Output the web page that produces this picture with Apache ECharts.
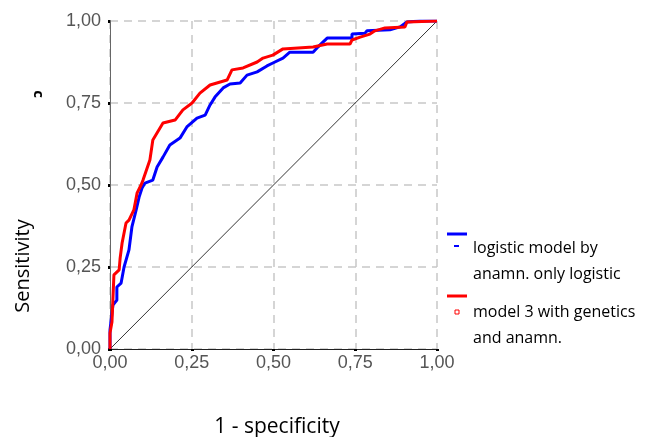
<!DOCTYPE html>
<html>
<head>
<meta charset="utf-8">
<script src="https://cdn.jsdelivr.net/npm/echarts@6/dist/echarts.min.js"></script>
<style>
  html, body { margin: 0; padding: 0; background: #fff; }
  #chart { width: 650px; height: 437px; }
</style>
</head>
<body>
<div id="chart"></div>
<script>
// ROC curves, points are [1 - specificity, sensitivity]
var seriesNames = ["logistic model by anamn. only logistic", "model 3 with genetics and anamn."];
var legendLines = [["logistic model by", "anamn. only logistic"], ["model 3 with genetics", "and anamn."]];
var ticks = [0, 0.25, 0.5, 0.75, 1];

var blueRoc = [
  [0, 0], [0, 0.058], [0.006, 0.058], [0.009, 0.134], [0.021, 0.149], [0.021, 0.189],
  [0.034, 0.201], [0.043, 0.25], [0.058, 0.302], [0.067, 0.372], [0.08, 0.424],
  [0.089, 0.463], [0.098, 0.491], [0.107, 0.506], [0.131, 0.515], [0.144, 0.555],
  [0.162, 0.585], [0.183, 0.622], [0.214, 0.643], [0.235, 0.677], [0.266, 0.704],
  [0.291, 0.713], [0.306, 0.744], [0.321, 0.768], [0.346, 0.796], [0.367, 0.808],
  [0.398, 0.811], [0.419, 0.835], [0.45, 0.845], [0.48, 0.863], [0.498, 0.872],
  [0.529, 0.887], [0.55, 0.905], [0.621, 0.905], [0.633, 0.918], [0.664, 0.948],
  [0.74, 0.948], [0.74, 0.96], [0.78, 0.963], [0.786, 0.97], [0.856, 0.973],
  [0.887, 0.982], [0.908, 0.997], [0.948, 1], [1, 1]
];
var redRoc = [
  [0, 0], [0, 0.049], [0.006, 0.049], [0.006, 0.082], [0.012, 0.082], [0.012, 0.226],
  [0.028, 0.241], [0.031, 0.277], [0.037, 0.323], [0.049, 0.384], [0.058, 0.393],
  [0.073, 0.424], [0.083, 0.476], [0.095, 0.5], [0.101, 0.515], [0.122, 0.576],
  [0.131, 0.637], [0.162, 0.689], [0.199, 0.698], [0.223, 0.729], [0.251, 0.75],
  [0.275, 0.78], [0.306, 0.805], [0.358, 0.82], [0.373, 0.851], [0.407, 0.857],
  [0.45, 0.875], [0.468, 0.887], [0.498, 0.896], [0.529, 0.915], [0.621, 0.921],
  [0.664, 0.93], [0.734, 0.93], [0.74, 0.942], [0.765, 0.951], [0.795, 0.96],
  [0.81, 0.97], [0.841, 0.979], [0.902, 0.982], [0.908, 0.997], [1, 1]
];
var diagonal = [[0, 0], [1, 1]];

var fmt = function (v) { return v.toFixed(2).replace(".", ","); };
var labelFont = { fontFamily: "Liberation Sans", fontSize: 18, color: "#555" };

var chart = echarts.init(document.getElementById("chart"));
var option = {
  animation: false,
  grid: { left: 110, top: 21, width: 327, height: 328 },
  xAxis: [{
    type: "value", min: 0, max: 1, interval: 0.25,
    axisLine: { lineStyle: { color: "#333", width: 1 } },
    axisTick: { show: true, length: 2, lineStyle: { color: "#000", width: 3 } },
    axisLabel: Object.assign({ margin: 5, formatter: fmt }, labelFont),
    splitLine: { show: true, lineStyle: { color: "#c8c8c8", width: 1.5, type: [8, 6] } }
  }, {
    type: "value", min: 0, max: 1, position: "top",
    axisLine: { show: true, lineStyle: { color: "#222", width: 1 } },
    axisTick: { show: false }, axisLabel: { show: false }, splitLine: { show: false }
  }],
  yAxis: [{
    type: "value", min: 0, max: 1, interval: 0.25,
    axisLine: { show: true, lineStyle: { color: "#000", width: 1 } },
    axisTick: { show: true, length: 2, lineStyle: { color: "#000", width: 3 } },
    axisLabel: Object.assign({ margin: 9, formatter: fmt }, labelFont),
    splitLine: { show: true, lineStyle: { color: "#c8c8c8", width: 1.5, type: [8, 6] } }
  }, {
    type: "value", min: 0, max: 1, position: "right",
    axisLine: { show: true, lineStyle: { color: "#666", width: 1 } },
    axisTick: { show: false }, axisLabel: { show: false }, splitLine: { show: false }
  }],
  series: [{
    type: "line", data: diagonal, symbol: "none", silent: true,
    lineStyle: { color: "#000", width: 0.8 }
  }, {
    name: seriesNames[0], type: "line", data: blueRoc, symbol: "none",
    lineStyle: { color: "#0000ff", width: 3 }
  }, {
    name: seriesNames[1], type: "line", data: redRoc, symbol: "none",
    lineStyle: { color: "#ff0000", width: 3 }
  }],
  graphic: [
    { type: "text", x: 23, y: 266, rotation: Math.PI / 2,
      style: { text: "Sensitivity", fontFamily: "Open Sans", fontSize: 20, fill: "#000",
        align: "center", verticalAlign: "middle" } },
    { type: "text", x: 38, y: 94, rotation: -Math.PI / 2,
      style: { text: "c", fontFamily: "Open Sans", fontSize: 15, fontWeight: "bold", fill: "#000",
        align: "center", verticalAlign: "middle" } },
    { type: "text", x: 277, y: 427,
      style: { text: "1 - specificity", fontFamily: "Open Sans", fontSize: 21, fill: "#000",
        align: "center", verticalAlign: "middle" } },
    { type: "line", shape: { x1: 447, y1: 234, x2: 467, y2: 234 }, style: { stroke: "#0000ff", lineWidth: 3 } },
    { type: "rect", shape: { x: 454, y: 245, width: 5, height: 2 }, style: { fill: "#0000ff" } },
    { type: "text", left: 473, top: 235,
      style: { text: legendLines[0].join("\n"), fontFamily: "Open Sans", fontSize: 16, lineHeight: 26, fill: "#000" } },
    { type: "line", shape: { x1: 447, y1: 296, x2: 467, y2: 296 }, style: { stroke: "#ff0000", lineWidth: 3 } },
    { type: "rect", shape: { x: 455, y: 310, width: 4, height: 4 }, style: { fill: "#fff", stroke: "#ff0000", lineWidth: 1 } },
    { type: "text", left: 473, top: 299,
      style: { text: legendLines[1].join("\n"), fontFamily: "Open Sans", fontSize: 16, lineHeight: 26, fill: "#000" } }
  ]
};
chart.setOption(option);
</script>
</body>
</html>
